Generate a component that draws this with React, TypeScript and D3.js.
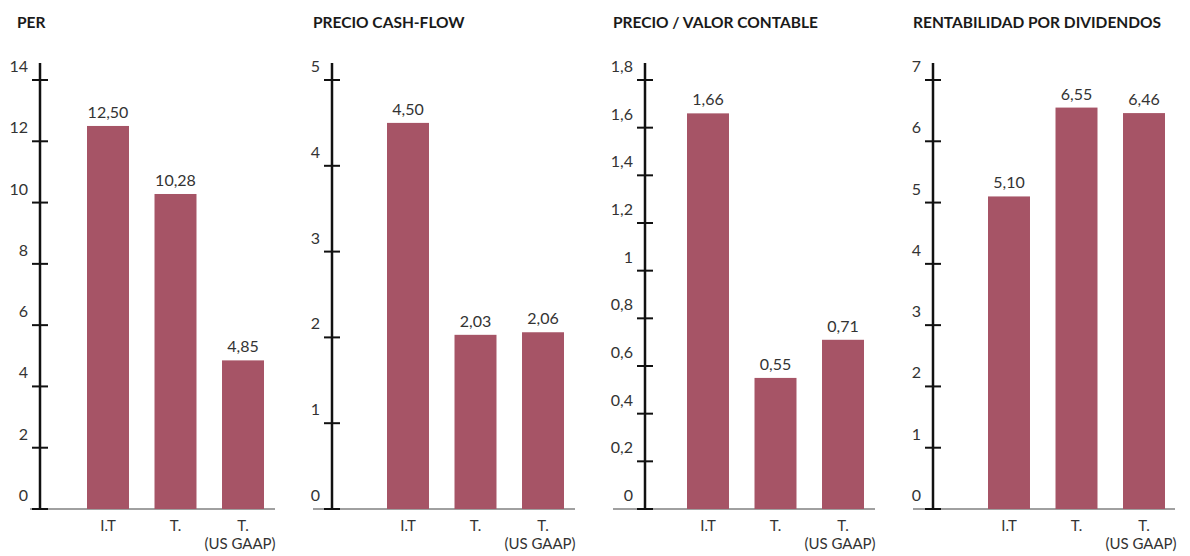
import React from "react";
import * as d3 from "d3";

const titles = ["PER", "PRECIO CASH-FLOW", "PRECIO / VALOR CONTABLE", "RENTABILIDAD POR DIVIDENDOS"];
const categories = ["I.T", "T.", "T."];
const categorySub = ["", "", "(US GAAP)"];

const perValues = [12.5, 10.28, 4.85];
const cashFlowValues = [4.5, 2.03, 2.06];
const bookValues = [1.66, 0.55, 0.71];
const dividendValues = [5.1, 6.55, 6.46];
const seriesValues = [perValues, cashFlowValues, bookValues, dividendValues];

const axisMax = [14, 5, 1.8, 7];
const tickStep = [2, 1, 0.2, 1];

// layout
const W = 1190;
const H = 556;
const titleX = [17, 313, 613, 913];
const axisX = [40, 332, 645, 933];
const barStart = [87, 387, 687, 988];
const baseStart = [30, 313, 613, 913];
const baseEnd = [275, 575, 875, 1175];
const yTop = 80;
const yBase = 509;
const barColor = "#a65466";
const font = "Lato, 'Open Sans', sans-serif";

const fmtTick = (v: number) => String(v).replace(".", ",");
const fmtVal = (v: number) => v.toFixed(2).replace(".", ",");

function Panel({ i }: { i: number }) {
  const values = seriesValues[i];
  const y = d3.scaleLinear().domain([0, axisMax[i]]).range([yBase, yTop]);
  const x = d3
    .scaleBand<number>()
    .domain([0, 1, 2])
    .range([barStart[i], barStart[i] + 177])
    .paddingInner(0.378)
    .paddingOuter(0);
  const n = Math.round(axisMax[i] / tickStep[i]);
  const ticks = d3.range(0, n + 1).map((k) => +(k * tickStep[i]).toFixed(4));
  const ax = axisX[i];
  return (
    <g>
      <text x={titleX[i]} y={28} fontFamily={font} fontWeight={700} fontSize={15.5} fill="#1a1a1a">
        {titles[i]}
      </text>
      <line x1={baseStart[i]} x2={baseEnd[i]} y1={yBase} y2={yBase} stroke="#808080" strokeWidth={1.5} />
      {values.map((v, j) => (
        <rect key={j} x={x(j)} y={y(v)} width={x.bandwidth()} height={yBase - y(v)} fill={barColor} />
      ))}
      <line x1={ax} x2={ax} y1={63} y2={yBase} stroke="#111" strokeWidth={2.5} />
      {ticks.map((t) => (
        <g key={t}>
          <line x1={ax - 8} x2={ax + 8} y1={y(t)} y2={y(t)} stroke="#111" strokeWidth={2} />
          <text
            x={ax - 12}
            y={y(t) - 8}
            textAnchor="end"
            fontFamily={font}
            fontSize={16}
            fill="#333"
          >
            {fmtTick(t)}
          </text>
        </g>
      ))}
      {values.map((v, j) => (
        <text
          key={"v" + j}
          x={(x(j) as number) + x.bandwidth() / 2}
          y={y(v) - 8}
          textAnchor="middle"
          fontFamily={font}
          fontSize={16}
          fill="#333"
        >
          {fmtVal(v)}
        </text>
      ))}
      {categories.map((c, j) => (
        <g key={"c" + j}>
          <text
            x={(x(j) as number) + x.bandwidth() / 2}
            y={531}
            textAnchor="middle"
            fontFamily={font}
            fontSize={15}
            fill="#333"
          >
            {c}
          </text>
          {categorySub[j] && (
            <text
              x={(x(j) as number) + x.bandwidth() / 2 - 3}
              y={549}
              textAnchor="middle"
              fontFamily={font}
              fontSize={15}
              fill="#333"
            >
              {categorySub[j]}
            </text>
          )}
        </g>
      ))}
    </g>
  );
}

export default function App() {
  return (
    <svg
      width={W}
      height={H}
      viewBox={`0 0 ${W} ${H}`}
      style={{ position: "absolute", left: 0, top: 0, background: "#fff" }}
    >
      <rect width={W} height={H} fill="#fff" />
      {titles.map((_, i) => (
        <Panel key={i} i={i} />
      ))}
    </svg>
  );
}
